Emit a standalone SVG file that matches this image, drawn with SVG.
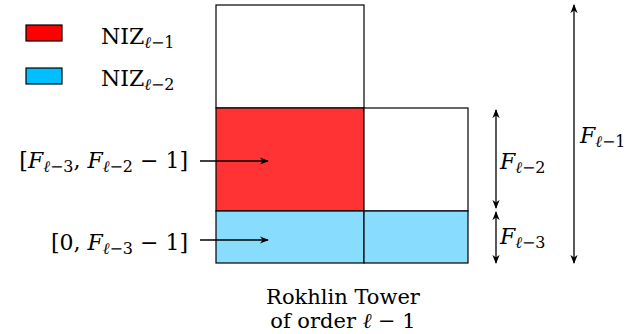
<svg xmlns="http://www.w3.org/2000/svg" width="629" height="334" viewBox="0 0 629 334">
<defs>
<marker id="ah" viewBox="0 0 10 10" refX="9" refY="5" markerWidth="9" markerHeight="9" markerUnits="userSpaceOnUse" orient="auto-start-reverse">
<path d="M0,1 L10,5 L0,9 L3,5 Z" fill="#000"/>
</marker>
<style>
.t{font-family:"DejaVu Serif","Liberation Serif",serif;font-size:22px;fill:#000}
.b{font-size:21px}
.i{font-style:italic}
.s{font-size:16px}
.box{stroke:#000;stroke-width:1.2}
.ln{stroke:#000;stroke-width:1.3;fill:none}
</style>
</defs>
<rect width="629" height="334" fill="#fff"/>
<g id="legend">
<rect class="box" x="26" y="25" width="36" height="16" fill="#ff0000"/>
<rect class="box" x="26" y="68" width="36" height="16" fill="#00bfff"/>
<text class="t" x="101" y="44">NIZ<tspan class="s i" dy="4">ℓ</tspan><tspan class="s">−1</tspan></text>
<text class="t" x="101" y="86">NIZ<tspan class="s i" dy="4">ℓ</tspan><tspan class="s">−2</tspan></text>
</g>
<g id="tower">
<rect id="top" class="box" x="216" y="5" width="148" height="103" fill="#fff"/>
<rect id="red" class="box" x="216" y="108" width="148" height="103" fill="#ff3333"/>
<rect id="right" class="box" x="364" y="108" width="104" height="103" fill="#fff"/>
<rect id="blueL" class="box" x="216" y="211" width="148" height="52" fill="#88ddff"/>
<rect id="blueR" class="box" x="364" y="211" width="104" height="52" fill="#88ddff"/>
</g>
<g id="connectors">
<line class="ln" x1="200" y1="161" x2="268" y2="161" marker-end="url(#ah)"/>
<line class="ln" x1="200" y1="240" x2="268" y2="240" marker-end="url(#ah)"/>
<line class="ln" x1="496" y1="110" x2="496" y2="208" marker-start="url(#ah)" marker-end="url(#ah)"/>
<line class="ln" x1="496" y1="212" x2="496" y2="263" marker-start="url(#ah)" marker-end="url(#ah)"/>
<line class="ln" x1="574" y1="5" x2="574" y2="263" marker-start="url(#ah)" marker-end="url(#ah)"/>
</g>
<g id="labels">
<text class="t" x="188" y="168" text-anchor="end">[<tspan class="i">F</tspan><tspan class="s i" dy="4">ℓ</tspan><tspan class="s">−3</tspan><tspan dy="-4">, </tspan><tspan class="i">F</tspan><tspan class="s i" dy="4">ℓ</tspan><tspan class="s">−2</tspan><tspan dy="-4"> − 1]</tspan></text>
<text class="t" x="188" y="250" text-anchor="end">[0, <tspan class="i">F</tspan><tspan class="s i" dy="4">ℓ</tspan><tspan class="s">−3</tspan><tspan dy="-4"> − 1]</tspan></text>
<text class="t" x="500" y="169"><tspan class="i">F</tspan><tspan class="s i" dy="4">ℓ</tspan><tspan class="s">−2</tspan></text>
<text class="t" x="500" y="244"><tspan class="i">F</tspan><tspan class="s i" dy="4">ℓ</tspan><tspan class="s">−3</tspan></text>
<text class="t" x="580" y="143"><tspan class="i">F</tspan><tspan class="s i" dy="4">ℓ</tspan><tspan class="s">−1</tspan></text>
<text class="t b" x="343" y="304" text-anchor="middle">Rokhlin Tower</text>
<text class="t b" x="343" y="328" text-anchor="middle">of order <tspan class="i">ℓ</tspan> − 1</text>
</g>
</svg>
